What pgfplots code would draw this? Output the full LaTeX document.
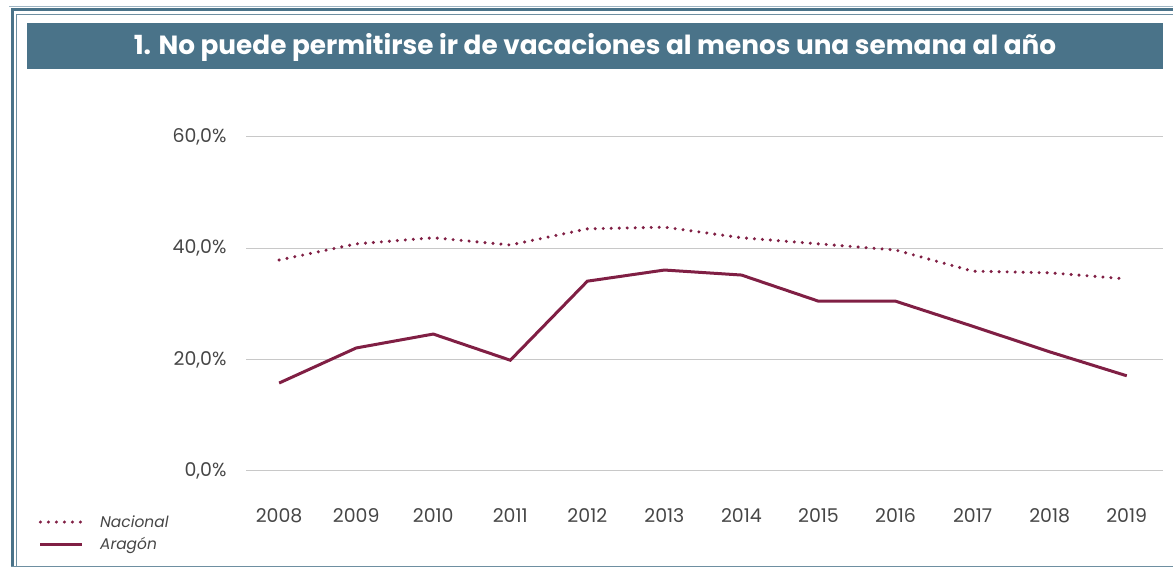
\documentclass[border=0pt]{standalone}
\usepackage{fontspec}
\setmainfont{Poppins}
\usepackage{pgfplots}
\pgfplotsset{compat=1.18}
\definecolor{TitleBar}{RGB}{74,115,137}
\definecolor{FrameLight}{RGB}{160,182,196}
\definecolor{Vino}{RGB}{128,31,68}
\definecolor{TickGray}{RGB}{70,70,70}
\definecolor{GridGray}{RGB}{200,200,200}

\begin{document}
\begin{tikzpicture}[x=1bp,y=1bp]
\useasboundingbox (0,0) rectangle (1173,569);
% marco
\draw[FrameLight, line width=1bp] (9,569-7) -- (1173,569-7);
\draw[TitleBar, line width=3bp] (12.5,2) -- (12.5,569-10) -- (1173,569-10);
\draw[TitleBar!80, line width=1bp] (16.5,3) -- (16.5,569-14.5) -- (1173,569-14.5);
\draw[TitleBar!80, line width=1bp] (11,2.5) -- (1173,2.5);
% cabecera
\fill[TitleBar] (27,500) rectangle (1163,546);
\node[text=white, font=\fontsize{26.4}{30}\selectfont\bfseries] at (595,522)
  {1. No puede permitirse ir de vacaciones al menos una semana al año};

\begin{axis}[
  at={(246bp,98bp)}, anchor=south west,
  scale only axis, width=917bp, height=334bp,
  xmin=2007.57, xmax=2019.47,
  ymin=0, ymax=60,
  axis line style={draw=none},
  tick style={draw=none},
  xtick={2008,...,2019},
  xticklabels={2008,2009,2010,2011,2012,2013,2014,2015,2016,2017,2018,2019},
  ytick={0,20,40,60},
  yticklabels={{0,0\%},{20,0\%},{40,0\%},{60,0\%}},
  ymajorgrids=true,
  grid style={GridGray, line width=1bp},
  ticklabel style={font=\fontsize{19}{22}\selectfont, text=TickGray},
  xticklabel style={anchor=center, yshift=-45bp},
  yticklabel style={anchor=east, xshift=-16bp},
  clip=false,
  legend cell align=left,
  legend style={at={(rel axis cs:-0.2295,-0.127)}, anchor=north west,
    draw=none, fill=none, font=\fontsize{15.5}{18}\selectfont\itshape,
    text=TickGray, row sep=9bp,
    nodes={inner sep=0bp, text depth=0.2ex},
    /tikz/every odd column/.append style={column sep=16bp}},
  legend image code/.code={\draw[#1] (0bp,0bp) -- (42bp,0bp);},
]
\addplot[Vino, line width=3.4bp, line cap=round, dash pattern=on 0pt off 8bp]
  coordinates {(2008,37.9) (2009,40.8) (2010,41.9) (2011,40.6) (2012,43.5) (2013,43.8)
               (2014,41.9) (2015,40.8) (2016,39.7) (2017,35.9) (2018,35.6) (2019,34.5)};
\addlegendentry{Nacional}
\addplot[Vino, line width=3bp]
  coordinates {(2008,15.8) (2009,22.1) (2010,24.6) (2011,19.9) (2012,34.1) (2013,36.1)
               (2014,35.2) (2015,30.5) (2016,30.5) (2017,26.0) (2018,21.4) (2019,17.1)};
\addlegendentry{Aragón}
\end{axis}
\end{tikzpicture}
\end{document}
